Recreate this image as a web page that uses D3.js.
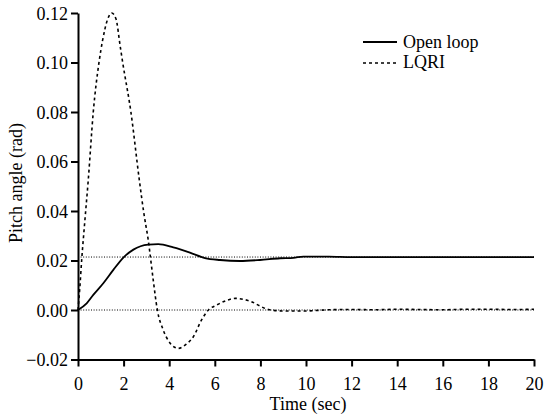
<!DOCTYPE html>
<html>
<head>
<meta charset="utf-8">
<script src="https://cdn.jsdelivr.net/npm/d3@7"></script>
<style>
  body { margin: 0; background: #fff; }
  svg text { font-family: "Liberation Serif", "Times New Roman", Times, serif; }
</style>
</head>
<body>
<div id="chart"></div>
<script>
// values
const openTime = [0, 0.38, 0.67, 1.11, 1.55, 1.99, 2.43, 3.08, 3.52, 4.18, 4.91, 5.57, 6.23, 7.1, 7.98, 8.86, 9.45, 9.88, 11, 12, 14, 16, 18, 20]
const openPitch = [0, 0.0027, 0.0061, 0.0108, 0.0162, 0.0212, 0.0244, 0.0264, 0.0266, 0.0253, 0.0232, 0.021, 0.0202, 0.0198, 0.0202, 0.0209, 0.0211, 0.0216, 0.0216, 0.0214, 0.0214, 0.0214, 0.0214, 0.0214]
const lqriTime = [0, 0.08, 0.16, 0.3, 0.45, 0.67, 0.92, 1.08, 1.3, 1.48, 1.66, 1.86, 1.96, 2.32, 2.69, 2.89, 3.08, 3.3, 3.48, 3.74, 4.05, 4.4, 4.75, 5.06, 5.42, 5.72, 6.08, 6.5, 6.89, 7.3, 7.6, 7.98, 8.35, 9, 10, 11, 12, 13, 14, 15, 16, 17, 18, 19, 20]
const lqriPitch = [0, 0.009, 0.02, 0.036, 0.0525, 0.08, 0.1, 0.109, 0.1175, 0.12, 0.1178, 0.106, 0.1, 0.08, 0.0525, 0.039, 0.0283, 0.0121, 0, -0.0081, -0.0135, -0.0155, -0.0138, -0.0108, -0.004, 0, 0.002, 0.0038, 0.0047, 0.0042, 0.0034, 0.0016, 0.0002, -0.0004, -0.0004, 0.0001, 0.0002, 0.0001, 0.0003, 0.0002, 0.0001, 0.0003, 0.0003, 0.0002, 0.0003]
const refLevels = [0, 0.0214]
const xTicks = [0, 2, 4, 6, 8, 10, 12, 14, 16, 18, 20]
const yTicks = [-0.02, 0, 0.02, 0.04, 0.06, 0.08, 0.1, 0.12]
const seriesNames = ['Open loop', 'LQRI']

const width = 544
const height = 416
const serif = '"Liberation Serif", "Times New Roman", Times, serif'

const svg = d3.select('#chart')
  .append('svg')
  .attr('width', width)
  .attr('height', height)

const x = d3.scaleLinear().domain([0, 20]).range([78, 534])
const y = d3.scaleLinear().domain([-0.02, 0.12]).range([359.5, 13])

// dotted reference lines
svg.selectAll('line.ref')
  .data(refLevels)
  .enter()
  .append('line')
  .attr('class', 'ref')
  .attr('x1', x(0))
  .attr('x2', x(20))
  .attr('y1', d => y(d))
  .attr('y2', d => y(d))
  .style('stroke', '#000')
  .style('stroke-width', 1)
  .style('stroke-dasharray', '1,1.6')

const line = d3.line()
  .x(d => x(d[0]))
  .y(d => y(d[1]))
  .curve(d3.curveMonotoneX)

svg.append('path')
  .datum(openTime.map((t, i) => [t, openPitch[i]]))
  .attr('d', line)
  .style('fill', 'none')
  .style('stroke', '#000')
  .style('stroke-width', 1.8)

svg.append('path')
  .datum(lqriTime.map((t, i) => [t, lqriPitch[i]]))
  .attr('d', line)
  .style('fill', 'none')
  .style('stroke', '#000')
  .style('stroke-width', 1.6)
  .style('stroke-dasharray', '3,3')

// axes
const xAxis = svg.append('g')
  .attr('transform', 'translate(0,' + y(-0.02) + ')')
  .call(d3.axisBottom(x).tickValues(xTicks).tickFormat(d3.format('d')).tickSize(7).tickSizeOuter(0))
const yAxis = svg.append('g')
  .attr('transform', 'translate(' + x(0) + ',0)')
  .call(d3.axisLeft(y).tickValues(yTicks).tickFormat(d3.format('.2f')).tickSize(7).tickSizeOuter(0))

for (const g of [xAxis, yAxis]) {
  g.attr('font-family', serif).attr('font-size', 18)
  g.select('.domain').style('stroke-width', 2)
  g.selectAll('.tick line').style('stroke-width', 2)
  g.selectAll('.tick text').attr('fill', '#000')
}
xAxis.selectAll('.tick text').attr('y', 30).attr('dy', 0)
yAxis.selectAll('.tick text').attr('x', -10).attr('dy', '0.34em')

svg.append('text')
  .attr('x', 308)
  .attr('y', 410)
  .attr('text-anchor', 'middle')
  .style('font-size', '18px')
  .text('Time (sec)')

svg.append('text')
  .attr('transform', 'translate(22,183) rotate(-90)')
  .attr('text-anchor', 'middle')
  .style('font-size', '18px')
  .text('Pitch angle (rad)')

// legend
const legend = svg.append('g').attr('transform', 'translate(363,0)')
legend.selectAll('line')
  .data(seriesNames)
  .enter()
  .append('line')
  .attr('x1', 0)
  .attr('x2', 34)
  .attr('y1', (d, i) => 42 + i * 21)
  .attr('y2', (d, i) => 42 + i * 21)
  .style('stroke', '#000')
  .style('stroke-width', (d, i) => i === 0 ? 1.8 : 1.4)
  .style('stroke-dasharray', (d, i) => i === 0 ? null : '3,3')
legend.selectAll('text')
  .data(seriesNames)
  .enter()
  .append('text')
  .attr('x', 40)
  .attr('y', (d, i) => 48 + i * 20)
  .style('font-size', '18px')
  .text(d => d)
</script>
</body>
</html>
